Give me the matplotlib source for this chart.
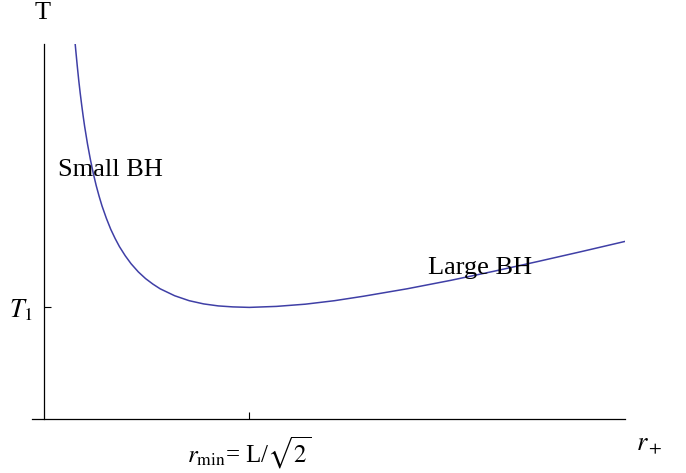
import numpy as np
import matplotlib
matplotlib.use("Agg")
import matplotlib.pyplot as plt

# values (r_+ in units of L, T in arbitrary units)
r_plus = [0.107, 0.11, 0.115, 0.12, 0.125, 0.13, 0.135, 0.14, 0.15, 0.16,
          0.17, 0.18, 0.19, 0.20, 0.215, 0.23, 0.245, 0.26, 0.28, 0.30, 0.325,
          0.35, 0.375, 0.40, 0.45, 0.50, 0.55, 0.60, 0.65, 0.707, 0.80, 0.90,
          1.00, 1.10, 1.25, 1.40, 1.55, 1.70, 1.85, 2.00]
temp = [1.52, 1.482, 1.421, 1.364, 1.313, 1.266, 1.222, 1.181, 1.109, 1.046,
        0.990, 0.941, 0.898, 0.859, 0.809, 0.765, 0.728, 0.695, 0.658, 0.626,
        0.593, 0.566, 0.544, 0.525, 0.497, 0.477, 0.464, 0.456, 0.452, 0.450,
        0.454, 0.463, 0.477, 0.495, 0.525, 0.559, 0.596, 0.635, 0.675, 0.716]

r_min = 0.707
T1 = 0.450
x_tick_label = r"$r_{\mathrm{min}}$= L/$\sqrt{2}$"
y_tick_label = r"$T_1$"

plt.rcParams["font.family"] = ["Liberation Serif", "DejaVu Serif"]
plt.rcParams["mathtext.fontset"] = "stix"

W, H = 686, 473
fig = plt.figure(figsize=(W / 100, H / 100), dpi=100)
ax = fig.add_axes([32 / W, 1 - 419 / H, (625 - 32) / W, (419 - 44) / H])

ax.plot(r_plus, temp, color="#3f3fa6", lw=1.1, clip_on=True)
ax.set_xlim(-0.041, 2.0)
ax.set_ylim(0, 1.512)

for s in ["top", "right"]:
    ax.spines[s].set_visible(False)
ax.spines["left"].set_position(("data", 0))
ax.spines["bottom"].set_position(("data", 0))
for s in ["left", "bottom"]:
    ax.spines[s].set_linewidth(0.9)

ax.set_xticks([r_min])
ax.set_xticklabels([x_tick_label], fontsize=18)
ax.set_yticks([T1])
ax.set_yticklabels([y_tick_label], fontsize=19)
ax.tick_params(axis="x", direction="in", length=5, width=0.8, pad=11)
ax.tick_params(axis="y", direction="in", length=5, width=0.8, pad=8)

fig.text(43 / W, 1 - 13 / H, "T", fontsize=19, ha="center", va="center")
fig.text(636 / W, 1 - 446 / H, r"$r_+$", fontsize=19, ha="left", va="center")
fig.text(58 / W, 1 - 170 / H, "Small BH", fontsize=19, ha="left", va="center")
fig.text(428 / W, 1 - 268 / H, "Large BH", fontsize=19, ha="left", va="center")

fig.savefig("out.png", dpi=100)
